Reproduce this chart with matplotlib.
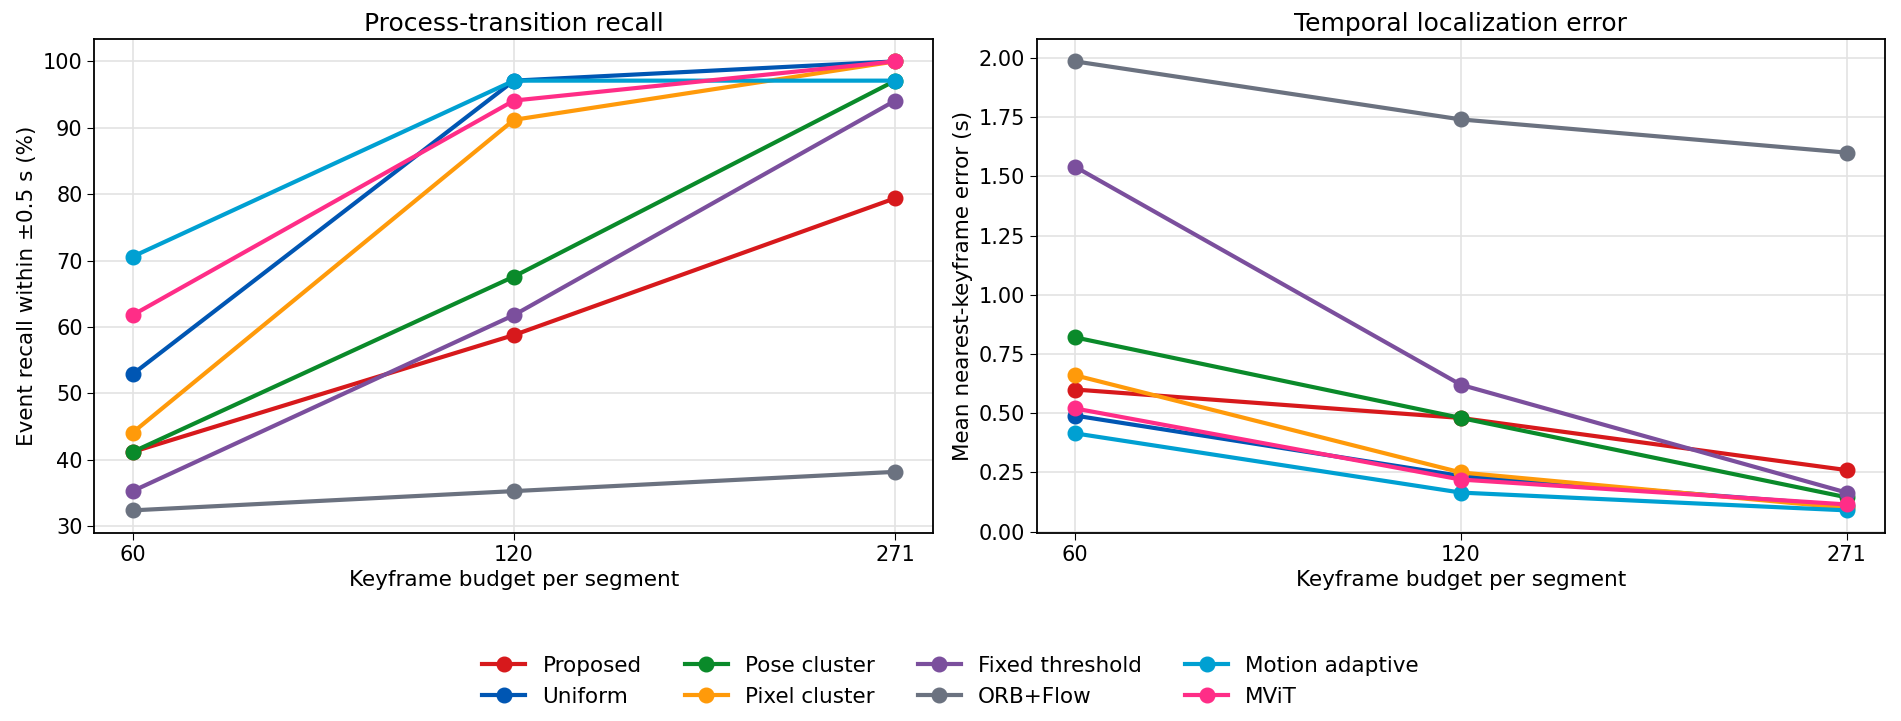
import numpy as np
import matplotlib
matplotlib.use("Agg")
import matplotlib.pyplot as plt

budgets = ["60", "120", "271"]
methods = ["Proposed", "Uniform", "Pose cluster", "Pixel cluster",
           "Fixed threshold", "ORB+Flow", "Motion adaptive", "MViT"]
colors = ["#d7191c", "#0056b3", "#0a8a2a", "#ff9a0a",
          "#7b4f9d", "#6b7280", "#00a0d2", "#ff2d87"]

# recall within +-0.5 s (%)
recall = {
    "Proposed":        [41.2, 58.8, 79.4],
    "Uniform":         [52.9, 97.1, 100.0],
    "Pose cluster":    [41.2, 67.6, 97.1],
    "Pixel cluster":   [44.1, 91.2, 100.0],
    "Fixed threshold": [35.3, 61.8, 94.1],
    "ORB+Flow":        [32.4, 35.3, 38.2],
    "Motion adaptive": [70.6, 97.1, 97.1],
    "MViT":            [61.8, 94.1, 100.0],
}

# mean nearest-keyframe error (s)
error = {
    "Proposed":        [0.60, 0.48, 0.26],
    "Uniform":         [0.49, 0.235, 0.11],
    "Pose cluster":    [0.82, 0.48, 0.145],
    "Pixel cluster":   [0.66, 0.25, 0.10],
    "Fixed threshold": [1.54, 0.62, 0.165],
    "ORB+Flow":        [1.985, 1.74, 1.60],
    "Motion adaptive": [0.415, 0.165, 0.09],
    "MViT":            [0.52, 0.22, 0.115],
}

fig = plt.figure(figsize=(19.01, 7.21), dpi=100)
ax1 = fig.add_axes([0.0497, 0.261, 0.4413, 0.685])
ax2 = fig.add_axes([0.5453, 0.261, 0.4464, 0.685])

x = np.arange(len(budgets))

for ax, data in ((ax1, recall), (ax2, error)):
    for m, c in zip(methods, colors):
        ax.plot(x, data[m], color=c, linewidth=3.0, marker="o",
                markersize=10.5, label=m)
    ax.set_xticks(x)
    ax.set_xticklabels(budgets)
    ax.grid(True, color="#e3e3e3", linewidth=1.2)
    ax.set_axisbelow(True)
    ax.tick_params(labelsize=15, length=5)
    ax.set_xlabel("Keyframe budget per segment", fontsize=15.5)
    for s in ax.spines.values():
        s.set_color("black")
        s.set_linewidth(1.3)

ax1.set_title("Process-transition recall", fontsize=18)
ax1.set_ylabel("Event recall within \u00b10.5 s (%)", fontsize=15.5)
ax1.set_yticks(np.arange(30, 101, 10))

ax2.set_title("Temporal localization error", fontsize=18)
ax2.set_ylabel("Mean nearest-keyframe error (s)", fontsize=15.5)
ax2.set_yticks(np.arange(0, 2.01, 0.25))
ax2.yaxis.set_major_formatter(matplotlib.ticker.FormatStrFormatter("%.2f"))

handles, labels = ax1.get_legend_handles_labels()
fig.legend(handles, labels, loc="center", bbox_to_anchor=(0.50, 0.055),
           ncol=4, frameon=False, fontsize=15.5, columnspacing=2.0,
           handlelength=2.0, labelspacing=0.5)

fig.savefig("out.png", dpi=100, facecolor="white")
plt.close(fig)
